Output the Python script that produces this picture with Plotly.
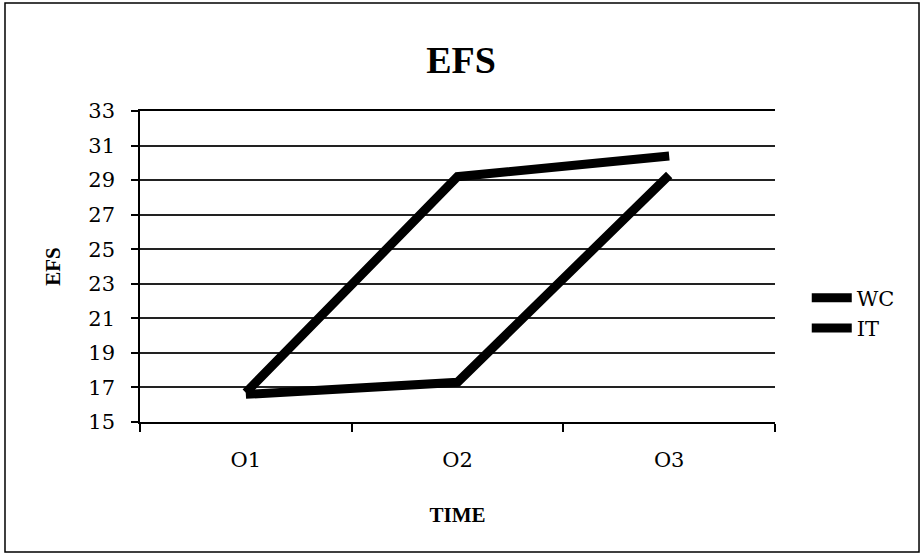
import plotly.graph_objects as go

categories = ["O1", "O2", "O3"]
wc_values = [16.7, 29.2, 30.4]
it_values = [16.6, 17.3, 29.3]
y_ticks = [15, 17, 19, 21, 23, 25, 27, 29, 31, 33]

TICK_FONT = "DejaVu Serif"
BOLD_FONT = "Liberation Serif"

fig = go.Figure()
fig.add_trace(go.Scatter(x=categories, y=wc_values, name="WC", mode="lines",
                         line=dict(color="black", width=9)))
fig.add_trace(go.Scatter(x=categories, y=it_values, name="IT", mode="lines",
                         line=dict(color="black", width=9)))

fig.update_layout(
    width=922, height=555,
    margin=dict(l=140, r=147, t=111, b=133),
    paper_bgcolor="white", plot_bgcolor="white",
    font=dict(family=TICK_FONT, color="black", size=21),
    title=dict(text="<b>EFS</b>", x=0.5, xanchor="center", xref="container",
               y=0.892, yref="container", yanchor="middle",
               font=dict(family=BOLD_FONT, size=38, color="black")),
    showlegend=True,
    legend=dict(x=1.05, xanchor="left", y=0.35, yanchor="middle",
                font=dict(family=TICK_FONT, size=21, color="black"),
                bgcolor="rgba(0,0,0,0)", itemwidth=40),
    xaxis=dict(type="category", range=[-0.5, 2.5], showgrid=False,
               showline=True, mirror=True, linecolor="black", linewidth=1.5,
               ticks="outside", tickson="boundaries", ticklen=8,
               tickcolor="black", tickwidth=1.5, ticklabelstandoff=18,
               tickfont=dict(family=TICK_FONT, size=21),
               title=dict(text="<b>TIME</b>", standoff=36,
                          font=dict(family=BOLD_FONT, size=21))),
    yaxis=dict(range=[15, 33], tickvals=y_ticks, showgrid=True,
               gridcolor="#222", gridwidth=1.5, zeroline=False,
               showline=True, linecolor="black", linewidth=1.5,
               ticks="outside", ticklen=7, tickcolor="black", tickwidth=1.5,
               ticklabelstandoff=12,
               tickfont=dict(family=TICK_FONT, size=21),
               title=dict(text="<b>EFS</b>", standoff=22,
                          font=dict(family=BOLD_FONT, size=21))),
    shapes=[dict(type="rect", xref="paper", yref="paper",
                 x0=-0.2126, x1=1.2268, y0=-0.418, y1=1.347,
                 line=dict(color="black", width=1.5), fillcolor="rgba(0,0,0,0)")],
)

fig.write_html("out.html", config={"displayModeBar": False},
               post_script="document.body.style.margin='0';")
